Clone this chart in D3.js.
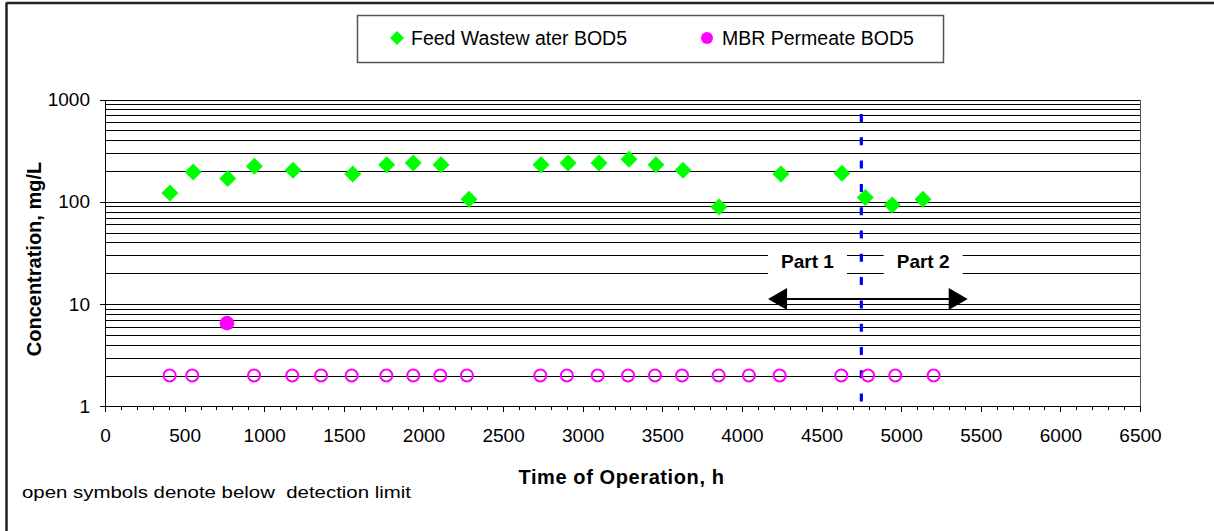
<!DOCTYPE html>
<html>
<head>
<meta charset="utf-8">
<script src="https://cdn.jsdelivr.net/npm/d3@7"></script>
<style>
  html, body { margin: 0; padding: 0; background: #fff; }
  svg { display: block; font-family: "Liberation Sans", Arial, sans-serif; }
</style>
</head>
<body>
<svg id="chart" width="1214" height="531"></svg>
<script>
// ---- data ----
const feedHours = [408, 554, 771, 938, 1181, 1556, 1769, 1936, 2110, 2286, 2738, 2908, 3102, 3291, 3460, 3630, 3856, 4245, 4628, 4775, 4944, 5137];
const feedBOD5  = [122, 196, 169, 222, 203, 187, 230, 240, 230, 106, 230, 240, 240, 261, 230, 203, 89, 187, 190, 110, 93, 106];

const permeateHours = [766];
const permeateBOD5  = [6.5];

// open symbols: below detection limit (plotted at the detection limit)
const bdlHours = [406, 548, 936, 1176, 1357, 1549, 1767, 1936, 2106, 2273, 2734, 2901, 3094, 3285, 3454, 3624, 3854, 4044, 4237, 4624, 4792, 4963, 5204];
const bdlBOD5  = [2, 2, 2, 2, 2, 2, 2, 2, 2, 2, 2, 2, 2, 2, 2, 2, 2, 2, 2, 2, 2, 2, 2];

const xTickValues = [0, 500, 1000, 1500, 2000, 2500, 3000, 3500, 4000, 4500, 5000, 5500, 6000, 6500];
const yTickValues = [1, 10, 100, 1000];
const yGridValues = [2, 3, 4, 5, 6, 7, 8, 9, 10, 20, 30, 40, 50, 60, 70, 80, 90, 100, 200, 300, 400, 500, 600, 700, 800, 900, 1000];

const partSplitHour = 4750;
const arrowStartHour = 4164, arrowEndHour = 5418, arrowLevel = 11.2;
const part1Box = [4164, 4660], part2Box = [4890, 5386];
const partBoxTop = 36.9, partBoxBottom = 16.8, partLabelLevel = 22.4;

const seriesNames = ["Feed Wastew ater BOD5", "MBR Permeate BOD5"];

// ---- layout ----
const svg = d3.select("#chart");
const x = d3.scaleLinear().domain([0, 6500]).range([105, 1140]);
const y = d3.scaleLog().domain([1, 1000]).range([406.3, 99.5]);
const crisp = v => Math.round(v) + 0.5;

const green = "#00ff00", magenta = "#ff00ff", blue = "#0000ff";

// outer frame (left & top edges visible)
svg.append("line").attr("x1", 6.5).attr("x2", 6.5).attr("y1", 2.5).attr("y2", 531)
  .attr("stroke", "#222").attr("stroke-width", 2.5);
svg.append("line").attr("x1", 6.5).attr("x2", 1214).attr("y1", 3).attr("y2", 3)
  .attr("stroke", "#222").attr("stroke-width", 2.5);

// gridlines
svg.append("g").selectAll("line").data(yGridValues).join("line")
  .attr("x1", x(0)).attr("x2", x(6500))
  .attr("y1", d => crisp(y(d))).attr("y2", d => crisp(y(d)))
  .attr("stroke", "#000").attr("stroke-width", 1).attr("shape-rendering", "crispEdges");

// right border of plot area
svg.append("line").attr("x1", crisp(x(6500))).attr("x2", crisp(x(6500)))
  .attr("y1", y(1000)).attr("y2", y(1))
  .attr("stroke", "#555").attr("stroke-width", 1).attr("shape-rendering", "crispEdges");

// Part label boxes (white, hide gridlines)
const boxes = [[part1Box, "Part 1"], [part2Box, "Part 2"]];
svg.append("g").selectAll("rect").data(boxes).join("rect")
  .attr("x", d => x(d[0][0])).attr("width", d => x(d[0][1]) - x(d[0][0]))
  .attr("y", y(partBoxTop)).attr("height", y(partBoxBottom) - y(partBoxTop))
  .attr("fill", "#fff");
svg.append("g").selectAll("text").data(boxes).join("text")
  .attr("x", d => (x(d[0][0]) + x(d[0][1])) / 2)
  .attr("y", y(partLabelLevel))
  .attr("text-anchor", "middle").attr("font-weight", "bold").attr("font-size", 19)
  .attr("fill", "#000").text(d => d[1]);

// blue dashed split line
svg.append("line").attr("x1", x(partSplitHour)).attr("x2", x(partSplitHour))
  .attr("y1", y(1000)).attr("y2", y(1))
  .attr("stroke", blue).attr("stroke-width", 3.2)
  .attr("stroke-dasharray", "8,15.3").attr("stroke-dashoffset", 8.8);

// double-headed arrow
const ay = y(arrowLevel), ax1 = x(arrowStartHour), ax2 = x(arrowEndHour);
svg.append("line").attr("x1", ax1 + 10).attr("x2", ax2 - 10).attr("y1", ay).attr("y2", ay)
  .attr("stroke", "#000").attr("stroke-width", 2.2);
svg.append("path").attr("d", `M${ax1},${ay} L${ax1 + 19},${ay - 11} L${ax1 + 19},${ay + 11} Z`).attr("fill", "#000");
svg.append("path").attr("d", `M${ax2},${ay} L${ax2 - 19},${ay - 11} L${ax2 - 19},${ay + 11} Z`).attr("fill", "#000");

// axes
const xAxis = svg.append("g").attr("transform", `translate(0,${crisp(y(1)) - 0.5})`)
  .call(d3.axisBottom(x).tickValues(xTickValues).tickSize(6).tickPadding(17).tickFormat(d3.format("d")));
const xMinor = svg.append("g").attr("transform", `translate(0,${crisp(y(1)) - 0.5})`)
  .call(d3.axisBottom(x).tickValues(d3.range(0, 6501, 100)).tickSize(4).tickFormat(""));
xMinor.select(".domain").remove();
const yAxis = svg.append("g").attr("transform", `translate(${crisp(x(0)) - 0.5},0)`)
  .call(d3.axisLeft(y).tickValues(yTickValues).tickSize(5).tickPadding(10).tickFormat(d3.format("d")));
[xAxis, yAxis, xMinor].forEach(g => {
  g.selectAll("path, line").attr("stroke", "#000").attr("shape-rendering", "crispEdges");
  g.selectAll("text").attr("font-size", 19).attr("fill", "#000")
    .attr("font-family", "'Liberation Sans', Arial, sans-serif");
});

// data marks
const diamond = (cx, cy, r) => `M${cx},${cy - r} L${cx + r},${cy} L${cx},${cy + r} L${cx - r},${cy} Z`;
svg.append("g").selectAll("path").data(feedHours).join("path")
  .attr("d", (d, i) => diamond(x(d), y(feedBOD5[i]), 8.5)).attr("fill", green);
svg.append("g").selectAll("circle").data(permeateHours).join("circle")
  .attr("cx", d => x(d)).attr("cy", (d, i) => y(permeateBOD5[i])).attr("r", 7.3).attr("fill", magenta);
svg.append("g").selectAll("circle").data(bdlHours).join("circle")
  .attr("cx", d => x(d)).attr("cy", (d, i) => y(bdlBOD5[i])).attr("r", 6)
  .attr("fill", "none").attr("stroke", magenta).attr("stroke-width", 2);

// axis titles
svg.append("text").attr("transform", `translate(41,259) rotate(-90)`)
  .attr("text-anchor", "middle").attr("font-weight", "bold").attr("font-size", 20)
  .text("Concentration, mg/L");
svg.append("text").attr("x", 621.5).attr("y", 484)
  .attr("text-anchor", "middle").attr("font-weight", "bold").attr("font-size", 20)
  .attr("letter-spacing", 0.6).text("Time of Operation, h");

// note
svg.append("text").attr("x", 22).attr("y", 498).attr("font-size", 17)
  .attr("textLength", 389).attr("lengthAdjust", "spacingAndGlyphs")
  .text("open symbols denote below  detection limit").attr("xml:space", "preserve").style("white-space", "pre");

// legend
const lg = svg.append("g");
lg.append("rect").attr("x", 357.5).attr("y", 15.5).attr("width", 586).attr("height", 47)
  .attr("fill", "#fff").attr("stroke", "#555").attr("stroke-width", 1.5);
lg.append("path").attr("d", diamond(397, 38, 7)).attr("fill", green);
lg.append("text").attr("x", 411).attr("y", 44.5).attr("font-size", 19.5).text(seriesNames[0]);
lg.append("circle").attr("cx", 707).attr("cy", 38).attr("r", 6).attr("fill", magenta);
lg.append("text").attr("x", 722).attr("y", 44.5).attr("font-size", 19.5).text(seriesNames[1]);
</script>
</body>
</html>
